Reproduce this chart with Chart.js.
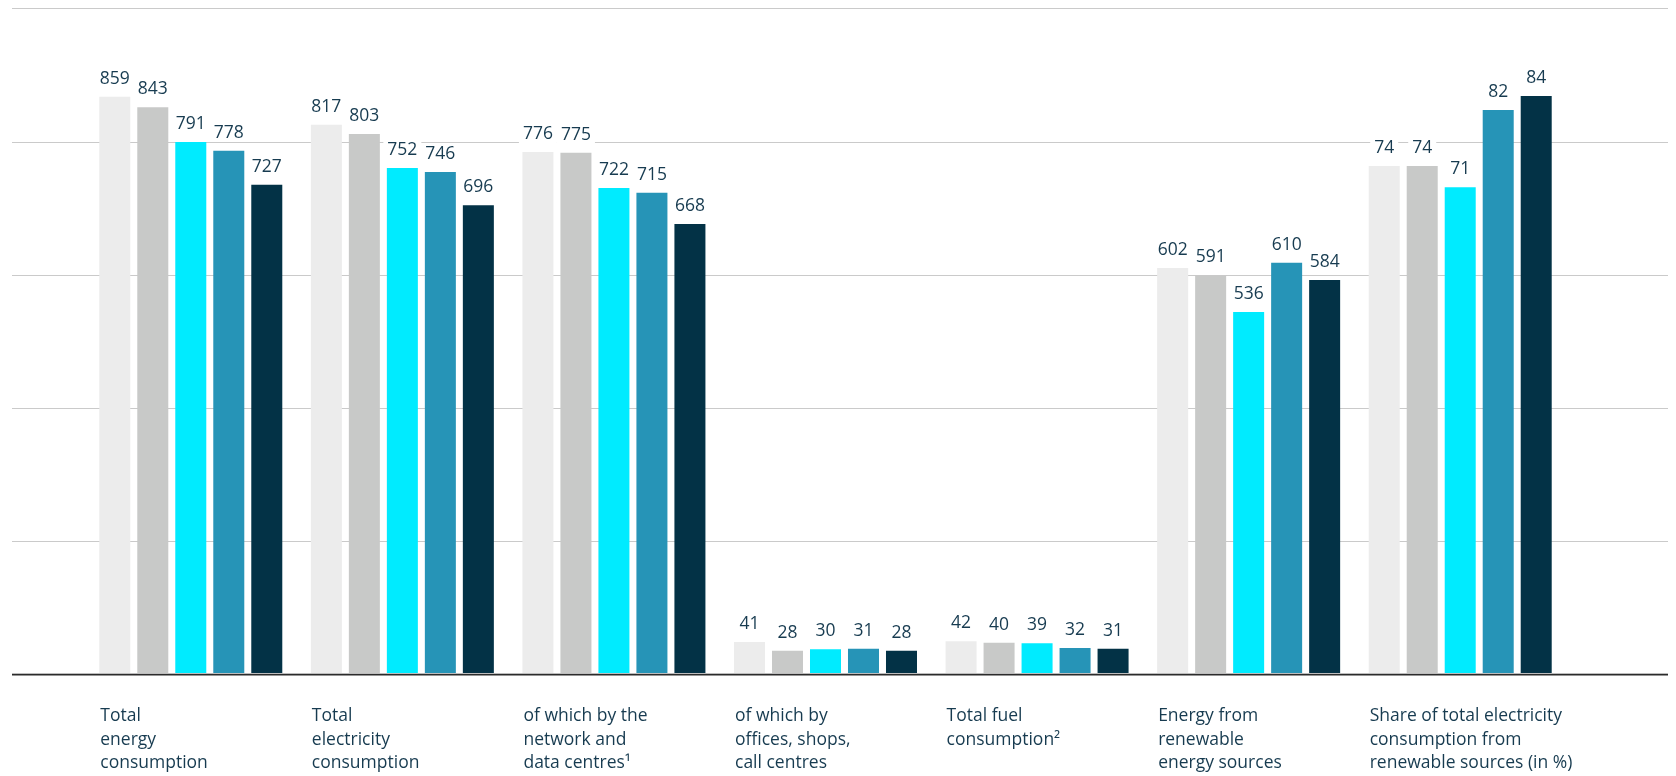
<!DOCTYPE html>
<html>
<head>
<meta charset="utf-8">
<script src="https://cdn.jsdelivr.net/npm/chart.js@4/dist/chart.umd.min.js"></script>
<style>
  html, body { margin: 0; padding: 0; background: #fff; }
  canvas { display: block; }
</style>
</head>
<body>
<canvas id="myChart" width="1676" height="776"></canvas>
<script>
// data
const categories = [
    ['Total', 'energy', 'consumption'],
    ['Total', 'electricity', 'consumption'],
    ['of which by the', 'network and', 'data centres\u00B9'],
    ['of which by', 'offices, shops,', 'call centres'],
    ['Total fuel', 'consumption\u00B2'],
    ['Energy from', 'renewable', 'energy sources'],
    ['Share of total electricity', 'consumption from', 'renewable sources (in %)']
]

// energy values for the first six categories, one array per series
const series1 = [859, 817, 776, 41, 42, 602]
const series2 = [843, 803, 775, 28, 40, 591]
const series3 = [791, 752, 722, 30, 39, 536]
const series4 = [778, 746, 715, 31, 32, 610]
const series5 = [727, 696, 668, 28, 31, 584]

// share of renewables (%), last category, one value per series
const shareValues = [74, 74, 71, 82, 84]

const seriesNames = ['Series 1', 'Series 2', 'Series 3', 'Series 4', 'Series 5']
const colors = ['#ececec', '#c8c9c8', '#00ebff', '#2694b7', '#033246']

const textColor = '#173b50'
const font = '"Open Sans", "DejaVu Sans", sans-serif'

// value axis ranges (energy left, share right)
const yMin = -7.05, yMax = 991.3
const y1Min = 1.5, y1Max = 96.5

const energySeries = [series1, series2, series3, series4, series5]

const datasets = []
energySeries.forEach((vals, i) => {
    datasets.push({
        label: seriesNames[i],
        data: [...vals, null],
        backgroundColor: colors[i],
        base: yMin,
        yAxisID: 'y'
    })
})
shareValues.forEach((v, i) => {
    const data = categories.map(() => null)
    data[categories.length - 1] = v
    datasets.push({
        label: seriesNames[i] + ' (%)',
        data,
        backgroundColor: colors[i],
        base: y1Min,
        yAxisID: 'y1'
    })
})

// gridlines across the whole width, drawn behind the bars
const gridPlugin = {
    id: 'grid',
    beforeDatasetsDraw(chart) {
        const { ctx, scales: { y } } = chart
        const left = 12, right = chart.width - 8
        ctx.save()
        for (let k = 1; k <= 5; k++) {
            const v = y.min + k * (y.max - y.min) / 5
            const py = Math.round(y.getPixelForValue(v)) + 0.5
            ctx.strokeStyle = '#cacaca'
            ctx.lineWidth = 1
            ctx.beginPath()
            ctx.moveTo(left, py)
            ctx.lineTo(right, py)
            ctx.stroke()
        }
        ctx.restore()
    },
    afterDatasetsDraw(chart) {
        const { ctx, scales: { y } } = chart
        const left = 12, right = chart.width - 8
        const py = y.getPixelForValue(y.min)
        ctx.save()
        ctx.strokeStyle = '#bdbdbd'
        ctx.lineWidth = 1
        ctx.beginPath()
        ctx.moveTo(left, py - 0.5)
        ctx.lineTo(right, py - 0.5)
        ctx.stroke()
        ctx.strokeStyle = '#2b2b2b'
        ctx.lineWidth = 1.5
        ctx.beginPath()
        ctx.moveTo(left, py + 0.75)
        ctx.lineTo(right, py + 0.75)
        ctx.stroke()
        ctx.restore()
    }
}

// value labels above each bar, with a white backing
const valueLabels = {
    id: 'valueLabels',
    afterDatasetsDraw(chart) {
        const { ctx } = chart
        ctx.save()
        ctx.font = '17.5px ' + font
        ctx.textAlign = 'center'
        ctx.textBaseline = 'alphabetic'
        chart.data.datasets.forEach((ds, di) => {
            const meta = chart.getDatasetMeta(di)
            meta.data.forEach((bar, i) => {
                const v = ds.data[i]
                if (v === null || v === undefined) return
                const txt = String(v)
                const base = bar.y - 13
                const w = ctx.measureText(txt).width
                ctx.fillStyle = '#ffffff'
                ctx.fillRect(bar.x - w / 2 - 4, base - 16, w + 8, 20)
                ctx.fillStyle = textColor
                ctx.fillText(txt, bar.x, base)
            })
        })
        ctx.restore()
    }
}

// category labels, left aligned with the first bar of each group
const categoryLabels = {
    id: 'categoryLabels',
    afterDraw(chart) {
        const { ctx, scales: { y } } = chart
        ctx.save()
        ctx.font = '17.5px ' + font
        ctx.fillStyle = textColor
        ctx.textAlign = 'left'
        ctx.textBaseline = 'alphabetic'
        const top = y.getPixelForValue(y.min)
        categories.forEach((lines, i) => {
            const di = i === categories.length - 1 ? energySeries.length : 0
            const bar = chart.getDatasetMeta(di).data[i]
            const x = bar.x - bar.width / 2 + 1
            lines.forEach((line, li) => {
                ctx.fillText(line, x, top + 47 + li * 23.7)
            })
        })
        ctx.restore()
    }
}

const config = {
    type: 'bar',
    data: {
        labels: categories.map(c => c.join(' ')),
        datasets
    },
    options: {
        responsive: false,
        devicePixelRatio: 1,
        animation: false,
        skipNull: true,
        categoryPercentage: 0.898,
        barPercentage: 0.816,
        layout: {
            padding: { left: 85, right: 110, top: 8.5, bottom: 102 }
        },
        plugins: {
            legend: { display: false },
            tooltip: { enabled: false }
        },
        scales: {
            x: { display: false },
            y: { display: false, min: yMin, max: yMax },
            y1: { display: false, min: y1Min, max: y1Max }
        }
    },
    plugins: [gridPlugin, valueLabels, categoryLabels]
}

const chart = new Chart(document.getElementById('myChart').getContext('2d'), config)
</script>
</body>
</html>
